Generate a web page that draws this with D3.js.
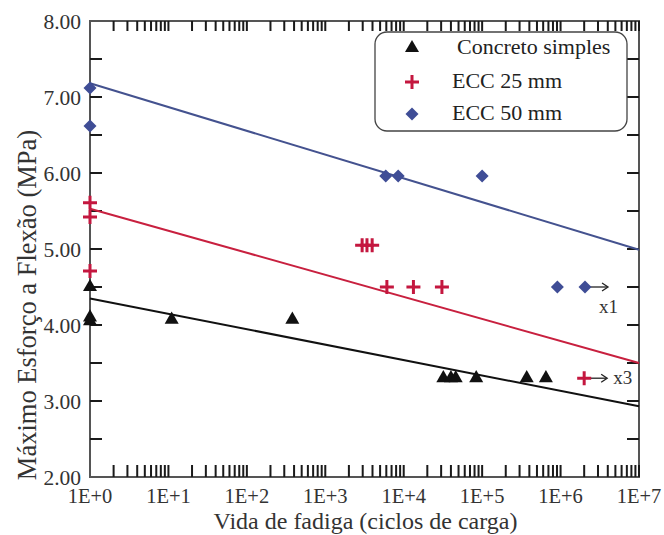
<!DOCTYPE html>
<html>
<head>
<meta charset="utf-8">
<script src="https://cdn.jsdelivr.net/npm/d3@7"></script>
<style>
  body { margin: 0; background: #fff; }
</style>
</head>
<body>
<div id="chart"></div>
<script>
// series data (cycles, MPa)
var seriesNames = ["Concreto simples", "ECC 25 mm", "ECC 50 mm"];
var plainCycles = [1, 1, 1, 11, 380, 32000, 40000, 46000, 84000, 370000, 650000];
var plainStress = [4.5, 4.1, 4.05, 4.07, 4.07, 3.3, 3.3, 3.3, 3.3, 3.3, 3.3];
var ecc25Cycles = [1, 1, 1, 2950, 3400, 3960, 6100, 13300, 30700, 2000000];
var ecc25Stress = [5.61, 5.42, 4.71, 5.05, 5.05, 5.05, 4.5, 4.5, 4.5, 3.3];
var ecc50Cycles = [1, 1, 5900, 8500, 100000, 910000, 2050000];
var ecc50Stress = [7.12, 6.62, 5.96, 5.96, 5.96, 4.5, 4.5];
// fitted lines: stress at 1E+0 and at 1E+7
var fitStart = [4.35, 5.53, 7.18];
var fitEnd = [2.93, 3.50, 4.99];
// run-outs (arrow + count)
var runoutSeries = [2, 1];
var runoutCycles = [2050000, 2000000];
var runoutStress = [4.5, 3.3];
var runoutLabels = ["x1", "x3"];
var yTickLabels = ["2.00", "3.00", "4.00", "5.00", "6.00", "7.00", "8.00"];
var xTickLabels = ["1E+0", "1E+1", "1E+2", "1E+3", "1E+4", "1E+5", "1E+6", "1E+7"];

var colors = ["#111", "#c4173f", "#3f4d96"];
var lineColors = ["#111", "#c8203f", "#44528f"];

var width = 664, height = 535;
var margin = {top: 21, right: 25, bottom: 58, left: 90};
var iw = width - margin.left - margin.right,
    ih = height - margin.top - margin.bottom;

var svg = d3.select("#chart").append("svg")
    .attr("width", width)
    .attr("height", height)
    .attr("font-family", "'Liberation Serif', 'Times New Roman', serif");

var g = svg.append("g")
    .attr("transform", "translate(" + margin.left + "," + margin.top + ")");

var x = d3.scaleLog().domain([1, 1e7]).range([0, iw]);
var y = d3.scaleLinear().domain([2, 8]).range([ih, 0]);

// minor ticks on log axis: 2..10 each decade
var xMinor = [];
for (var dec = 0; dec < 7; dec++) {
  for (var m = 2; m <= 10; m++) xMinor.push(m * Math.pow(10, dec));
}
var yMinor = d3.range(2.5, 8, 0.5);

g.append("rect")
    .attr("width", iw).attr("height", ih)
    .attr("fill", "none")
    .attr("stroke", "#555")
    .attr("stroke-width", 2);

var tickPath = "";
xMinor.forEach(function(d) {
  var px = x(d);
  tickPath += "M" + px + "," + ih + "V" + (ih - 12);
  tickPath += "M" + px + ",0V10";
});
yMinor.forEach(function(d) {
  var py = y(d);
  tickPath += "M0," + py + "H12";
  tickPath += "M" + iw + "," + py + "H" + (iw - 12);
});
g.append("path")
    .attr("d", tickPath)
    .attr("fill", "none")
    .attr("stroke", "#1a1a1a")
    .attr("stroke-width", 2);

// tick labels
g.append("g").selectAll("text")
  .data(yTickLabels)
  .enter().append("text")
    .attr("x", -9)
    .attr("y", d => y(+d))
    .attr("dy", "0.35em")
    .attr("text-anchor", "end")
    .attr("font-size", 21.5)
    .attr("fill", "#333")
    .text(d => d);

g.append("g").selectAll("text")
  .data(xTickLabels)
  .enter().append("text")
    .attr("x", (d, i) => x(Math.pow(10, i)))
    .attr("y", ih + 26)
    .attr("text-anchor", "middle")
    .attr("font-size", 20.5)
    .attr("fill", "#333")
    .text(d => d);

svg.append("text")
    .attr("x", margin.left + iw / 2 + 1)
    .attr("y", height - 6)
    .attr("text-anchor", "middle")
    .attr("font-size", 24)
    .attr("fill", "#333")
    .text("Vida de fadiga (ciclos de carga)");

svg.append("text")
    .attr("transform", "translate(36,305) rotate(-90)")
    .attr("text-anchor", "middle")
    .attr("font-size", 26.5)
    .attr("fill", "#333")
    .text("Máximo Esforço a Flexão (MPa)");

// fitted lines
g.append("g").selectAll("line")
  .data(fitStart)
  .enter().append("line")
    .attr("x1", x(1)).attr("x2", x(1e7))
    .attr("y1", d => y(d))
    .attr("y2", (d, i) => y(fitEnd[i]))
    .attr("stroke", (d, i) => lineColors[i])
    .attr("stroke-width", 2);

// symbols
var triangle = d3.symbol().type(d3.symbolTriangle).size(85);
var diamond = "M0,-6.5L6.5,0L0,6.5L-6.5,0Z";
var cross = "M-7,0H7M0,-7V7";

function drawSymbol(sel, k) {
  if (k === 0) sel.append("path").attr("d", triangle()).attr("fill", colors[0]);
  else if (k === 1) sel.append("path").attr("d", cross).attr("stroke", colors[1]).attr("stroke-width", 3).attr("fill", "none");
  else sel.append("path").attr("d", diamond).attr("fill", colors[2]);
}

var allCycles = [plainCycles, ecc25Cycles, ecc50Cycles];
var allStress = [plainStress, ecc25Stress, ecc50Stress];

// runout arrows
runoutSeries.forEach(function(s, i) {
  var px = x(runoutCycles[i]), py = y(runoutStress[i]);
  g.append("line")
      .attr("x1", px).attr("x2", px + 22)
      .attr("y1", py).attr("y2", py)
      .attr("stroke", "#222").attr("stroke-width", 1.3);
  g.append("path")
      .attr("d", "M" + (px + 17) + "," + (py - 4) + "L" + (px + 23) + "," + py + "L" + (px + 17) + "," + (py + 4))
      .attr("fill", "none").attr("stroke", "#222").attr("stroke-width", 1.3);
  var lbl = g.append("text")
      .attr("font-size", 19)
      .attr("fill", "#333")
      .text(runoutLabels[i]);
  if (s === 2) lbl.attr("x", px + 14).attr("y", py + 26);
  else lbl.attr("x", px + 29).attr("y", py + 6);
});

allCycles.forEach(function(cyc, k) {
  cyc.forEach(function(c, i) {
    var p = g.append("g")
        .attr("transform", "translate(" + x(c) + "," + y(allStress[k][i]) + ")");
    drawSymbol(p, k);
  });
});

// legend
var legend = g.append("g").attr("transform", "translate(" + (375 - margin.left) + "," + (32 - margin.top) + ")");
legend.append("rect")
    .attr("width", 252).attr("height", 99)
    .attr("rx", 12)
    .attr("fill", "#fff")
    .attr("stroke", "#444")
    .attr("stroke-width", 1.3);
var legendY = [16, 50, 82];
seriesNames.forEach(function(name, k) {
  var row = legend.append("g").attr("transform", "translate(0," + legendY[k] + ")");
  drawSymbol(row.append("g").attr("transform", "translate(37,0)"), k);
  row.append("text")
      .attr("x", k === 0 ? 82 : 77)
      .attr("y", 6)
      .attr("font-size", 22)
      .attr("fill", "#222")
      .text(name);
});
</script>
</body>
</html>
